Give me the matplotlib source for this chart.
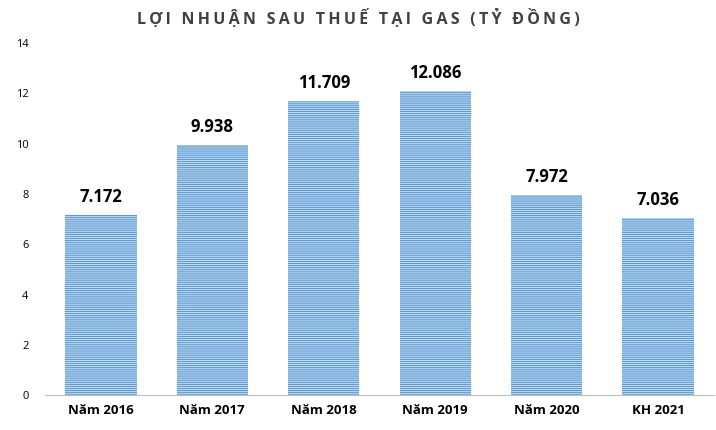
import matplotlib.pyplot as plt
import matplotlib as mpl

categories = ["Năm 2016", "Năm 2017", "Năm 2018", "Năm 2019", "Năm 2020", "KH 2021"]
values = [7.172, 9.938, 11.709, 12.086, 7.972, 7.036]
labels = ["7.172", "9.938", "11.709", "12.086", "7.972", "7.036"]

mpl.rcParams['font.family'] = ['Open Sans', 'DejaVu Sans']
mpl.rcParams['hatch.linewidth'] = 0.9

fig = plt.figure(figsize=(7.16, 4.3), dpi=100)
ax = fig.add_axes([0.063, 0.081, 0.934, 0.819])

x = range(len(categories))
bars = ax.bar(x, values, width=0.64, color="#dce9f7", edgecolor="#5b9bd5",
              hatch="--------", linewidth=0)
for b, lab in zip(bars, labels):
    ax.text(b.get_x() + b.get_width() / 2, b.get_height() + 0.35, lab,
            ha="center", va="bottom", fontsize=12, fontweight="bold")

ax.set_xlim(-0.5, len(categories) - 0.5)
ax.set_ylim(0, 14)
ax.set_yticks(range(0, 15, 2))
ax.set_xticks(list(x))
ax.set_xticklabels(categories, fontsize=9.5, fontweight="bold")
ax.tick_params(axis="y", labelsize=8, length=0, pad=12)
ax.tick_params(axis="x", length=0, pad=6)
for s in ["top", "right", "left"]:
    ax.spines[s].set_visible(False)
ax.spines["bottom"].set_color("#bfbfbf")

title = "LỢI NHUẬN SAU THUẾ TẠI GAS (TỶ ĐỒNG)"
fig.text(0.5, 0.958, "\u2009".join(title), ha="center", va="center",
         fontsize=11.5, fontweight="bold", color="#404040",
         family=['Open Sans', 'DejaVu Sans'])

fig.savefig("out.png", dpi=100)
